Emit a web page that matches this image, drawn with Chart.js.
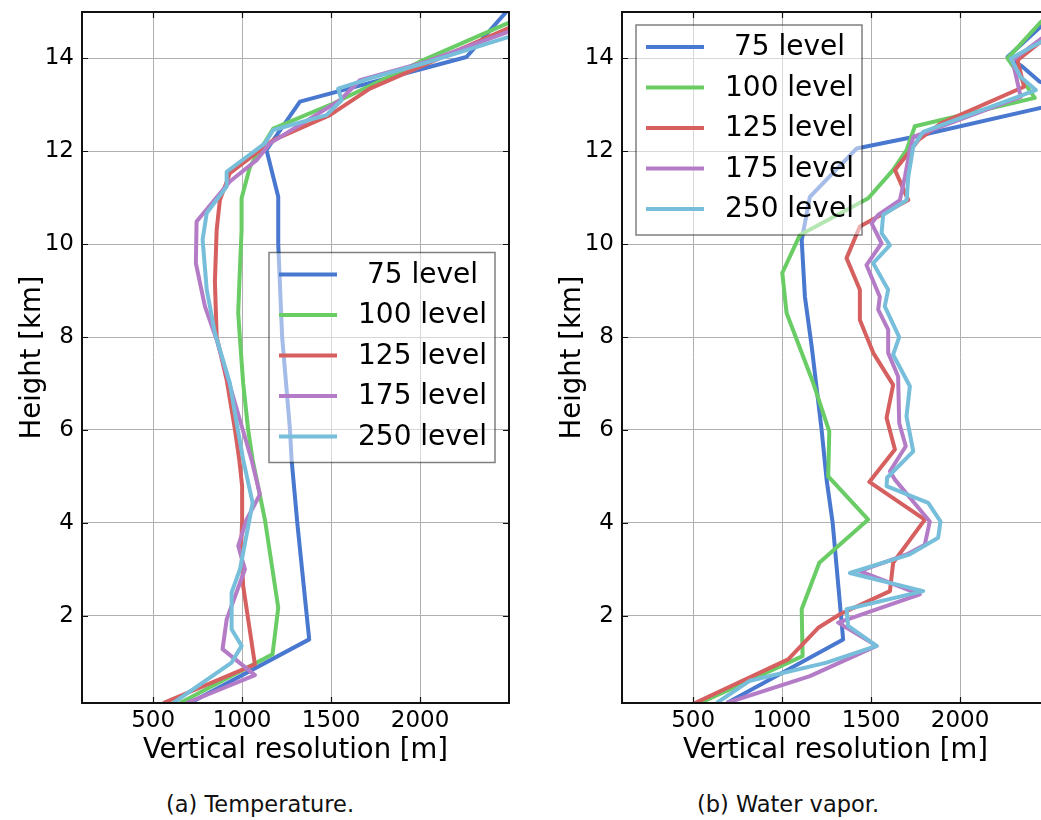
<!DOCTYPE html>
<html>
<head>
<meta charset="utf-8">
<title>Vertical resolution</title>
<script src="https://cdn.jsdelivr.net/npm/chart.js@4.4.1/dist/chart.umd.min.js"></script>
<style>
  html, body { margin: 0; padding: 0; background: #fff; overflow: hidden; width: 1041px; height: 820px; }
  .panel { position: absolute; top: 0; width: 530px; height: 780px; }
  .caption { position: absolute; top: 793px; font: 22.5px 'DejaVu Sans', sans-serif; line-height: 22px;
             white-space: nowrap; transform: translateX(-50%); color: #111; }
</style>
</head>
<body>
<div class="panel" style="left:0"><canvas id="temp" width="530" height="780"></canvas></div>
<div class="panel" style="left:540px"><canvas id="vapor" width="530" height="780"></canvas></div>
<div class="caption" style="left:260px">(a) Temperature.</div>
<div class="caption" style="left:788px">(b) Water vapor.</div>
<script>
// number of levels in each retrieval, as printed in the legend
const levelLabels = [' 75 level', '100 level', '125 level', '175 level', '250 level'];
const levelColors = ['#4878cf', '#6acc65', '#d65f5f', '#b47cc7', '#77bedb'];

const xTicks = [500, 1000, 1500, 2000];
const yTicks = [2, 4, 6, 8, 10, 12, 14];

// [vertical resolution (m), height (km)] — temperature
const temp75 = [[707,0.12],[1377,1.49],[1310,4.0],[1278,5.36],[1269,6.0],[1225,8.0],[1203,10.0],[1203,11.02],
  [1137,12.03],[1325,13.07],[2261,14.03],[2530,15.2]];
const temp100 = [[651,0.12],[1171,1.17],[1203,2.17],[1128,4.07],[1059,5.36],[1034,6.0],[1006,7.0],[987,8.0],
  [978,8.52],[985,9.23],[997,10.31],[997,10.99],[1044,11.67],[1175,12.49],[1512,13.03],[1999,13.93],[2494,14.76],[2560,14.9]];
const temp125 = [[557,0.12],[1072,0.95],[1006,2.64],[995,3.5],[1000,4.07],[1000,4.79],[984,5.36],[960,6.0],
  [913,7.08],[857,8.0],[847,9.2],[857,10.31],[875,10.95],[931,11.53],[1175,12.24],[1493,12.78],[1718,13.35],
  [1999,13.82],[2495,14.65],[2560,14.8]];
const temp175 = [[688,0.12],[1072,0.72],[890,1.28],[913,1.92],[1016,3.0],[978,3.5],[1025,4.07],[1100,4.61],
  [1053,5.36],[987,6.22],[922,7.08],[857,7.94],[791,8.66],[740,9.59],[744,10.49],[931,11.35],[1081,11.81],
  [1156,12.17],[1550,13.1],[1662,13.53],[2036,13.93],[2495,14.57],[2560,14.7]];
const temp250 = [[613,0.12],[941,0.99],[997,1.35],[941,1.71],[941,2.5],[988,3.0],[1059,4.43],[1006,5.36],
  [969,6.15],[931,7.01],[847,8.09],[801,9.02],[778,10.1],[801,10.67],[913,11.24],[913,11.56],[1128,12.17],
  [1175,12.46],[1474,12.78],[1559,13.1],[1540,13.35],[1718,13.57],[2018,13.89],[2495,14.46],[2560,14.55]];

// [vertical resolution (m), height (km)] — water vapor
const vapor75 = [[690,0.12],[1343,1.49],[1284,4.0],[1250,4.93],[1222,6.0],[1166,7.8],[1128,8.87],[1110,10.09],
  [1156,11.02],[1418,12.06],[1737,12.31],[2700,13.15],[2448,13.5],[2351,13.82],[2267,14.03],[2600,15.2]];
const vapor100 = [[538,0.12],[1115,1.13],[1110,2.14],[1209,3.14],[1484,4.07],[1259,5.0],[1265,5.97],[1175,7.01],
  [1025,8.52],[1001,9.38],[1100,10.2],[1484,10.99],[1624,11.6],[1700,12.03],[1746,12.54],[2420,13.15],
  [2267,14.0],[2455,14.79],[2560,15.1]];
const vapor125 = [[510,0.12],[1034,1.06],[1203,1.74],[1325,2.03],[1606,2.53],[1624,3.14],[1802,4.07],[1490,4.88],
  [1634,5.58],[1587,6.26],[1624,6.97],[1512,7.66],[1437,8.37],[1437,9.02],[1362,9.7],[1437,10.38],[1709,10.95],
  [1634,11.6],[1709,11.96],[1765,12.24],[1892,12.6],[2360,13.39],[2323,13.96],[2500,14.5],[2600,14.75]];
const vapor175 = [[688,0.12],[1156,0.7],[1531,1.35],[1315,1.85],[1774,2.46],[1437,2.96],[1700,3.32],[1802,3.53],
  [1830,4.03],[1634,4.93],[1606,5.11],[1695,5.65],[1658,6.15],[1652,7.15],[1596,7.66],[1596,8.16],[1540,8.59],
  [1549,8.87],[1474,9.55],[1559,10.02],[1503,10.45],[1540,10.63],[1662,10.95],[1690,11.45],[1718,12.03],
  [1737,12.31],[2341,13.17],[2295,13.96],[2500,14.55],[2600,14.75]];
const vapor250 = [[632,0.12],[819,0.6],[1250,0.99],[1531,1.35],[1371,1.78],[1362,2.14],[1793,2.53],[1381,2.92],
  [1718,3.32],[1877,3.68],[1890,4.03],[1821,4.43],[1587,4.79],[1590,4.97],[1737,5.54],[1699,6.29],[1718,6.94],
  [1624,7.62],[1658,8.0],[1577,8.66],[1596,9.02],[1512,9.59],[1606,9.98],[1559,10.24],[1568,10.63],[1700,10.95],
  [1709,11.45],[1737,12.1],[1793,12.42],[2426,13.32],[2341,13.6],[2285,14.0],[2500,14.45],[2600,14.65]];

const FONT = "'DejaVu Sans', sans-serif";

// boxed legend drawn over the lines, then the black frame with inward ticks
const axesFrame = {
  id: 'axesFrame',
  afterDatasetsDraw(chart, args, opts) {
    const ctx = chart.ctx;
    const a = chart.chartArea;
    const w = 226, h = 210;
    const bx = opts.place === 'upperLeft' ? a.left + 14 : a.right - 14 - w;
    const by = opts.place === 'upperLeft' ? a.top + 13 : (a.top + a.bottom) / 2 - h / 2;
    ctx.save();
    ctx.fillStyle = 'rgba(255,255,255,0.5)';
    ctx.fillRect(bx, by, w, h);
    ctx.strokeStyle = 'rgba(0,0,0,0.5)';
    ctx.lineWidth = 1.5;
    ctx.strokeRect(bx, by, w, h);
    ctx.font = '28px ' + FONT;
    ctx.textBaseline = 'middle';
    chart.data.datasets.forEach((ds, i) => {
      const yy = by + 22 + i * 40.5;
      ctx.strokeStyle = ds.borderColor;
      ctx.lineWidth = 4;
      ctx.beginPath();
      ctx.moveTo(bx + 10, yy);
      ctx.lineTo(bx + 68, yy);
      ctx.stroke();
      ctx.fillStyle = '#000';
      ctx.fillText(ds.label, bx + 89, yy + 1);
    });

    // frame + ticks pointing inward on all four sides
    ctx.strokeStyle = '#111';
    ctx.lineWidth = 1.2;
    const tl = 6;
    chart.scales.x.ticks.forEach(t => {
      const px = Math.round(chart.scales.x.getPixelForValue(t.value)) + 0.5;
      ctx.beginPath();
      ctx.moveTo(px, a.bottom); ctx.lineTo(px, a.bottom - tl);
      ctx.moveTo(px, a.top); ctx.lineTo(px, a.top + tl);
      ctx.stroke();
    });
    chart.scales.y.ticks.forEach(t => {
      const py = Math.round(chart.scales.y.getPixelForValue(t.value)) + 0.5;
      ctx.beginPath();
      ctx.moveTo(a.left, py); ctx.lineTo(a.left + tl, py);
      ctx.moveTo(a.right, py); ctx.lineTo(a.right - tl, py);
      ctx.stroke();
    });
    ctx.lineWidth = 2;
    ctx.strokeStyle = '#111';
    ctx.strokeRect(a.left, a.top, a.right - a.left, a.bottom - a.top);
    ctx.restore();
  }
};

function makeChart(id, series, place) {
  return new Chart(document.getElementById(id), {
    type: 'scatter',
    data: {
      datasets: series.map((pts, i) => ({
        label: levelLabels[i],
        data: pts.map(p => ({ x: p[0], y: p[1] })),
        showLine: true,
        borderColor: levelColors[i],
        backgroundColor: levelColors[i],
        borderWidth: 4,
        borderJoinStyle: 'round',
        pointRadius: 0,
        tension: 0,
        clip: 0,
        order: series.length - 1 - i   // later levels drawn on top
      }))
    },
    options: {
      responsive: false,
      animation: false,
      devicePixelRatio: 1,
      layout: { padding: { top: 12, right: 21, left: 0, bottom: 0 } },
      plugins: {
        legend: { display: false },
        tooltip: { enabled: false },
        axesFrame: { place: place }
      },
      scales: {
        x: {
          type: 'linear', min: 100, max: 2500,
          afterBuildTicks: s => { s.ticks = xTicks.map(v => ({ value: v })); },
          afterFit: s => { s.height = 77; s.paddingLeft = 0; s.paddingRight = 0; },
          grid: { color: '#b0b0b0', lineWidth: 1, drawTicks: false },
          border: { display: false },
          ticks: { padding: 4, color: '#000', maxRotation: 0, autoSkip: false,
                   font: { family: FONT, size: 23 }, callback: v => String(v) },
          title: { display: true, text: 'Vertical resolution [m]', color: '#000',
                   font: { family: FONT, size: 27.5 }, padding: { top: 0, bottom: 13 } }
        },
        y: {
          type: 'linear', min: 0.12, max: 15,
          afterBuildTicks: s => { s.ticks = yTicks.map(v => ({ value: v })); },
          afterFit: s => { s.width = 82; s.paddingTop = 0; s.paddingBottom = 0; },
          grid: { color: '#b0b0b0', lineWidth: 1, drawTicks: false },
          border: { display: false },
          ticks: { padding: 8, color: '#000', autoSkip: false,
                   font: { family: FONT, size: 23 }, callback: v => String(v) },
          title: { display: true, text: 'Height [km]', color: '#000',
                   font: { family: FONT, size: 27.5 }, padding: { top: 16, bottom: 0 } }
        }
      }
    },
    plugins: [axesFrame]
  });
}

makeChart('temp', [temp75, temp100, temp125, temp175, temp250], 'centerRight');
makeChart('vapor', [vapor75, vapor100, vapor125, vapor175, vapor250], 'upperLeft');
</script>
</body>
</html>
